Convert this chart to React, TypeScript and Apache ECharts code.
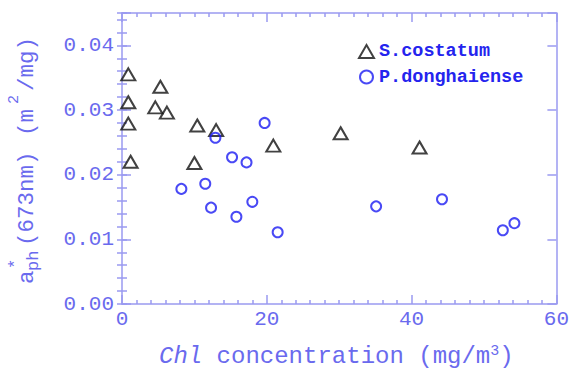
import React, { useEffect, useRef } from "react";
import * as echarts from "echarts";

const sCostatumX = [0.87, 0.87, 0.87, 1.19, 4.6, 5.3, 6.2, 10.4, 10.0, 13.0, 20.9, 30.2, 41.1];
const sCostatumY = [0.0355, 0.0312, 0.0279, 0.022, 0.0304, 0.0336, 0.0296, 0.0276, 0.0218, 0.0269, 0.0245, 0.0264, 0.0242];
const pDongX = [8.2, 11.5, 12.3, 12.9, 15.2, 17.2, 19.7, 15.8, 18.0, 21.5, 35.1, 44.2, 52.6, 54.2];
const pDongY = [0.0178, 0.0186, 0.0149, 0.0257, 0.0227, 0.0219, 0.028, 0.0135, 0.0158, 0.0111, 0.0151, 0.0162, 0.0114, 0.0125];
const seriesNames = ["S.costatum", "P.donghaiense"];

const MONO = "'Liberation Mono', 'DejaVu Sans Mono', monospace";
const AXIS_COLOR = "#9a9af0";
const LABEL_COLOR = "#6a6aee";

export default function App() {
  const ref = useRef<HTMLDivElement>(null);
  useEffect(() => {
    const chart = echarts.init(ref.current!, null, { renderer: "svg" });
    const lineStyle = { color: AXIS_COLOR, width: 1.5 };
    const baseX = {
      type: "value",
      min: 0,
      max: 60,
      interval: 20,
      axisLine: { show: true, onZero: false, lineStyle },
      axisTick: { show: true, inside: true, length: 9, lineStyle },
      minorTick: { show: true, splitNumber: 10, length: 4, lineStyle },
      splitLine: { show: false },
    };
    const majorY = {
      type: "value",
      min: 0,
      max: 0.045,
      interval: 0.01,
      axisLine: { show: true, onZero: false, lineStyle },
      axisTick: { show: true, inside: true, length: 9, lineStyle },
      splitLine: { show: false },
    };
    const minorY = {
      type: "value",
      min: 0,
      max: 0.045,
      interval: 0.002,
      axisLine: { show: false },
      axisTick: { show: true, inside: true, length: 5, lineStyle },
      axisLabel: { show: false },
      splitLine: { show: false },
    };
    const titleText = (text: string, x: number, y: number, size: number, extra: any = {}) => ({
      type: "text",
      x,
      y,
      style: {
        text,
        fill: LABEL_COLOR,
        font: `${extra.italic ? "italic " : ""}${size}px ${MONO}`,
        textAlign: "left",
        textVerticalAlign: "middle",
        verticalAlign: "middle",
      },
    });
    chart.setOption({
      animation: false,
      grid: { left: 122, right: 12, top: 13, bottom: 66 },
      xAxis: [
        {
          ...baseX,
          position: "bottom",
          axisLabel: { show: true, color: LABEL_COLOR, fontFamily: MONO, fontSize: 21, margin: 5 },
        },
        { ...baseX, position: "top", axisLabel: { show: false } },
      ],
      yAxis: [
        {
          ...majorY,
          position: "left",
          axisLabel: {
            show: true,
            color: LABEL_COLOR,
            fontFamily: MONO,
            fontSize: 21,
            margin: 8,
            formatter: (v: number) =>
              Math.abs(v * 100 - Math.round(v * 100)) < 1e-6 ? v.toFixed(2) : "",
          },
        },
        { ...minorY, position: "left" },
        { ...majorY, position: "right", axisLabel: { show: false } },
        { ...minorY, position: "right" },
      ],
      legend: {
        orient: "vertical",
        left: 353,
        top: 37,
        itemWidth: 15,
        itemHeight: 13,
        itemGap: 6.5,
        data: seriesNames,
        textStyle: { fontFamily: MONO, fontSize: 18.5, fontWeight: "bold", color: "#2424ee" },
      },
      series: [
        {
          name: seriesNames[0],
          type: "scatter",
          xAxisIndex: 0,
          yAxisIndex: 0,
          symbol: "triangle",
          symbolSize: [14, 12],
          itemStyle: { color: "rgba(255,255,255,0)", borderColor: "#111111", borderWidth: 2 },
          data: sCostatumX.map((x, i) => [x, sCostatumY[i]]),
        },
        {
          name: seriesNames[1],
          type: "scatter",
          xAxisIndex: 0,
          yAxisIndex: 0,
          symbol: "circle",
          symbolSize: 10,
          itemStyle: { color: "rgba(255,255,255,0)", borderColor: "#1c1cf2", borderWidth: 2 },
          data: pDongX.map((x, i) => [x, pDongY[i]]),
        },
      ],
      graphic: [
        {
          type: "group",
          x: 0,
          y: 284,
          rotation: Math.PI / 2,
          children: [
            titleText("a", 0, 27, 22.5),
            titleText("*", 15, 15, 17),
            titleText("ph", 13, 33.5, 17),
            titleText("(673nm)", 38, 27, 22.5),
            titleText("(m", 148, 27, 22.5),
            titleText("2", 180, 14, 15),
            titleText("/mg)", 193, 27, 22.5),
          ],
        },
        titleText("Chl", 159, 356.5, 24, { italic: true }),
        titleText(" concentration (mg/m", 159 + 43.2, 356.5, 24),
        titleText("3", 159 + 331.2, 351, 15),
        titleText(")", 159 + 340.2, 356.5, 24),
      ],
    });
    return () => chart.dispose();
  }, []);
  return (
    <div
      ref={ref}
      style={{ position: "fixed", left: 0, top: 0, width: 572, height: 370, background: "#fff" }}
    />
  );
}
